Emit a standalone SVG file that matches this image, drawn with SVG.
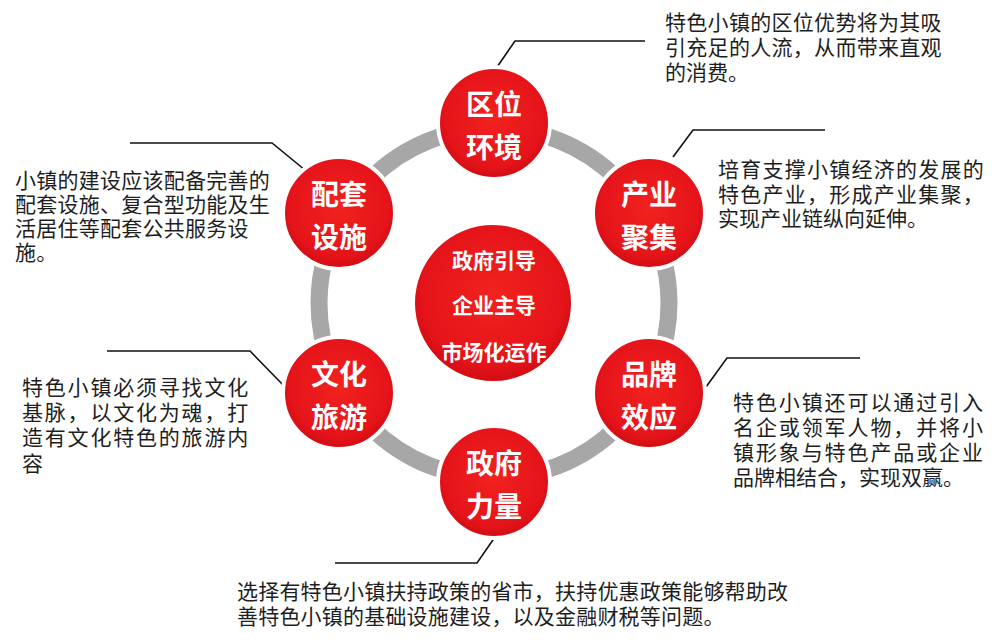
<svg xmlns="http://www.w3.org/2000/svg" width="1000" height="642" viewBox="0 0 1000 642">
  <defs>
    <radialGradient id="red" cx="50%" cy="45%" r="55%">
      <stop offset="0%" stop-color="#f2221f"/>
      <stop offset="80%" stop-color="#e4141a"/>
      <stop offset="100%" stop-color="#cf0c12"/>
    </radialGradient>
    <style>
      .node circle { fill: url(#red); stroke: #ffffff; stroke-width: 4; }
      .lbl { font-family: "Noto Sans CJK SC", "Noto Sans", sans-serif; font-weight: 700; font-size: 28px; fill: #ffffff; text-anchor: middle; }
      .clbl { font-family: "Noto Sans CJK SC", "Noto Sans", sans-serif; font-weight: 700; font-size: 21px; fill: #ffffff; text-anchor: middle; }
      .desc { font-family: "Noto Sans CJK SC", "Noto Sans", sans-serif; font-weight: 400; font-size: 21px; fill: #1e1e1e; }
      .conn polyline { fill: none; stroke: #111111; stroke-width: 1.6; }
    </style>
  </defs>
  <rect width="1000" height="642" fill="#ffffff"/>

  <circle id="ring" cx="494" cy="303" r="175" fill="none" stroke="#a7a7a7" stroke-width="17"/>

  <g id="connectors" class="conn">
    <polyline points="495,70 515,41 645,41"/>
    <polyline points="673,157 693,130 825,130"/>
    <polyline points="706,387 727,358 860,358"/>
    <polyline points="305,170 272,143 130,143"/>
    <polyline points="285,387 250,351 107,351"/>
    <polyline points="495,537 477,563 335,563"/>
  </g>

  <g id="center" class="node">
    <circle cx="493" cy="303" r="80"/>
    <text class="clbl" x="494" y="268">政府引导</text>
    <text class="clbl" x="494" y="313">企业主导</text>
    <text class="clbl" x="494" y="360">市场化运作</text>
  </g>

  <g id="node-quwei" class="node">
    <circle cx="494" cy="123" r="56"/>
    <text class="lbl" x="494" y="115">区位</text>
    <text class="lbl" x="494" y="158">环境</text>
  </g>
  <g id="node-chanye" class="node">
    <circle cx="649" cy="213" r="56"/>
    <text class="lbl" x="649" y="205">产业</text>
    <text class="lbl" x="649" y="248">聚集</text>
  </g>
  <g id="node-pinpai" class="node">
    <circle cx="649" cy="393" r="56"/>
    <text class="lbl" x="649" y="385">品牌</text>
    <text class="lbl" x="649" y="428">效应</text>
  </g>
  <g id="node-zhengfu" class="node">
    <circle cx="494" cy="482" r="56"/>
    <text class="lbl" x="494" y="474">政府</text>
    <text class="lbl" x="494" y="517">力量</text>
  </g>
  <g id="node-wenhua" class="node">
    <circle cx="339" cy="393" r="56"/>
    <text class="lbl" x="339" y="385">文化</text>
    <text class="lbl" x="339" y="428">旅游</text>
  </g>
  <g id="node-peitao" class="node">
    <circle cx="339" cy="213" r="56"/>
    <text class="lbl" x="339" y="205">配套</text>
    <text class="lbl" x="339" y="248">设施</text>
  </g>

  <text id="desc-quwei" class="desc">
    <tspan x="665" y="30" style="letter-spacing:0.3px">特色小镇的区位优势将为其吸</tspan>
    <tspan x="665" y="55" style="letter-spacing:0.3px">引充足的人流，从而带来直观</tspan>
    <tspan x="665" y="80">的消费。</tspan>
  </text>
  <text id="desc-chanye" class="desc">
    <tspan x="718" y="177" style="letter-spacing:1.25px">培育支撑小镇经济的发展的</tspan>
    <tspan x="718" y="202" style="letter-spacing:1.25px">特色产业，形成产业集聚，</tspan>
    <tspan x="718" y="226">实现产业链纵向延伸。</tspan>
  </text>
  <text id="desc-pinpai" class="desc">
    <tspan x="733" y="410" style="letter-spacing:1.9px">特色小镇还可以通过引入</tspan>
    <tspan x="733" y="435" style="letter-spacing:1.9px">名企或领军人物，并将小</tspan>
    <tspan x="733" y="460" style="letter-spacing:1.9px">镇形象与特色产品或企业</tspan>
    <tspan x="733" y="485">品牌相结合，实现双赢。</tspan>
  </text>
  <text id="desc-peitao" class="desc" style="letter-spacing:0.25px">
    <tspan x="15" y="188">小镇的建设应该配备完善的</tspan>
    <tspan x="15" y="212">配套设施、复合型功能及生</tspan>
    <tspan x="15" y="236">活居住等配套公共服务设</tspan>
    <tspan x="15" y="260">施。</tspan>
  </text>
  <text id="desc-wenhua" class="desc">
    <tspan x="22" y="395" style="letter-spacing:1.8px">特色小镇必须寻找文化</tspan>
    <tspan x="22" y="420" style="letter-spacing:1.8px">基脉，以文化为魂，打</tspan>
    <tspan x="22" y="445" style="letter-spacing:1.8px">造有文化特色的旅游内</tspan>
    <tspan x="22" y="471">容</tspan>
  </text>
  <text id="desc-zhengfu" class="desc" style="letter-spacing:0.2px">
    <tspan x="237" y="599">选择有特色小镇扶持政策的省市，扶持优惠政策能够帮助改</tspan>
    <tspan x="237" y="624">善特色小镇的基础设施建设，以及金融财税等问题。</tspan>
  </text>
</svg>
